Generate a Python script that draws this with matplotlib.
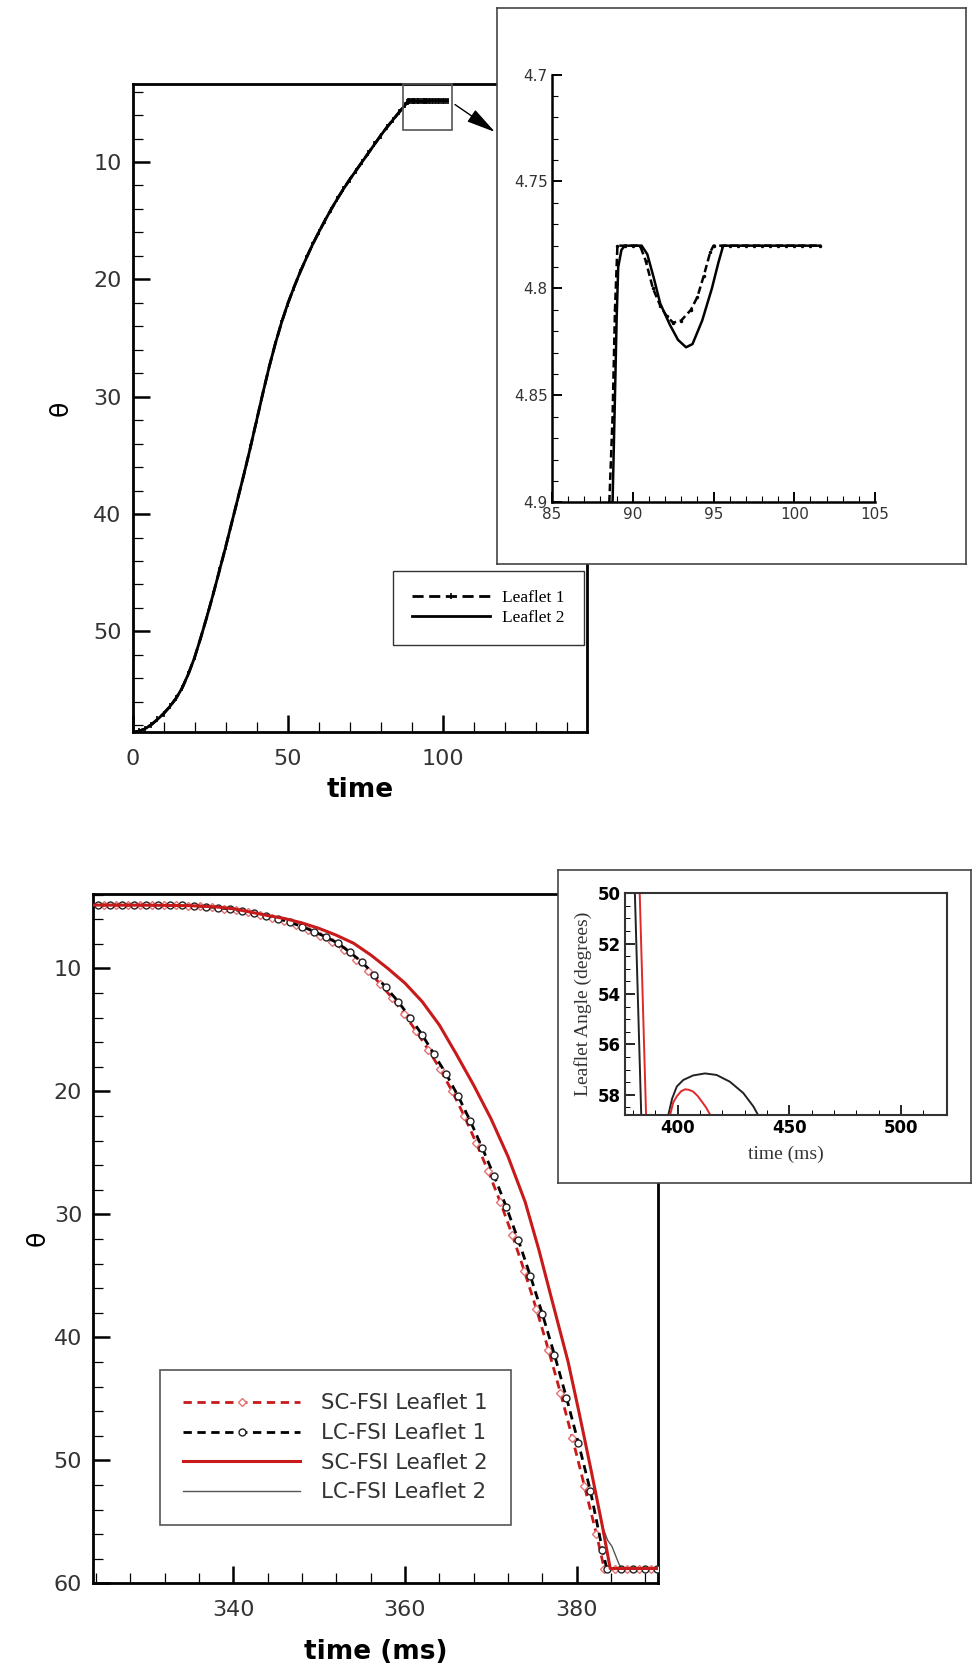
import matplotlib
matplotlib.use('Agg')
import matplotlib.pyplot as plt
from matplotlib.patches import Rectangle
from matplotlib.ticker import MultipleLocator

plt.rcParams['font.family'] = ['DejaVu Sans']

# ---- top panel: opening, full curve (shared by both leaflets) ----
time_rise = [0, 2, 4, 6, 8, 10, 12, 14, 16, 18, 20, 22, 24, 26, 28, 30, 32, 34,
             36, 38, 40, 42, 44, 46, 48, 50, 52, 54, 56, 58, 60, 62, 64, 66, 68,
             70, 72, 74, 76, 78, 80, 82, 84, 86, 88]
theta_rise = [58.6, 58.5, 58.3, 57.95, 57.5, 57.0, 56.4, 55.7, 54.8, 53.6, 52.2,
              50.5, 48.7, 46.8, 44.8, 42.8, 40.7, 38.6, 36.5, 34.3, 32.0, 29.7,
              27.5, 25.5, 23.7, 22.1, 20.7, 19.4, 18.2, 17.05, 16.0, 15.0, 14.05,
              13.15, 12.3, 11.5, 10.75, 10.0, 9.25, 8.5, 7.75, 7.05, 6.4, 5.75, 5.1]

# ---- top panel: zoom near full opening ----
time_l1 = [88.55, 88.75, 88.9, 89.05, 89.5, 90.0, 90.45, 90.8, 91.25, 91.7, 92.1,
           92.5, 93.0, 93.6, 94.0, 94.4, 94.8, 95.0, 95.5, 96.0, 96.5, 97.0, 97.5,
           98.0, 98.5, 99.0, 99.5, 100.0, 100.5, 101.0, 101.6]
theta_l1 = [4.9, 4.86, 4.81, 4.78, 4.78, 4.78, 4.78, 4.787, 4.8, 4.808, 4.813,
            4.816, 4.815, 4.81, 4.804, 4.794, 4.783, 4.78, 4.78, 4.78, 4.78, 4.78,
            4.78, 4.78, 4.78, 4.78, 4.78, 4.78, 4.78, 4.78, 4.78]
time_l2 = [88.75, 88.9, 89.0, 89.1, 89.3, 89.5, 90.55, 90.9, 91.3, 91.7, 92.3,
           92.8, 93.3, 93.7, 94.3, 94.9, 95.3, 95.6, 101.6]
theta_l2 = [4.9, 4.85, 4.815, 4.79, 4.782, 4.78, 4.78, 4.784, 4.795, 4.807, 4.817,
            4.824, 4.8275, 4.826, 4.815, 4.8, 4.788, 4.78, 4.78]

# ---- bottom panel: closing ----
time_sc1 = [324.9, 326.3, 327.7, 329.1, 330.5, 331.9, 333.3, 334.7, 336.1, 337.5,
            338.9, 340.3, 341.7, 343.1, 344.5, 345.9, 347.3, 348.7, 350.1, 351.5,
            352.9, 354.3, 355.7, 357.1, 358.5, 359.9, 361.3, 362.7, 364.1, 365.5,
            366.9, 368.3, 369.7, 371.1, 372.5, 373.9, 375.3, 376.7, 378.1, 379.5,
            380.9, 382.3, 383.2, 384.4, 385.8, 387.2, 388.6]
theta_sc1 = [4.85, 4.85, 4.85, 4.86, 4.86, 4.87, 4.88, 4.9, 4.95, 5.03, 5.14, 5.28,
             5.45, 5.65, 5.88, 6.15, 6.5, 6.9, 7.35, 7.85, 8.5, 9.3, 10.2, 11.25,
             12.4, 13.7, 15.1, 16.6, 18.2, 20.0, 22.0, 24.2, 26.5, 29.0, 31.7, 34.6,
             37.7, 41.0, 44.5, 48.2, 52.1, 56.0, 58.8, 58.8, 58.8, 58.8, 58.8]
time_lc1 = [324.2, 325.6, 327.0, 328.4, 329.8, 331.2, 332.6, 334.0, 335.4, 336.8,
            338.2, 339.6, 341.0, 342.4, 343.8, 345.2, 346.6, 348.0, 349.4, 350.8,
            352.2, 353.6, 355.0, 356.4, 357.8, 359.2, 360.6, 362.0, 363.4, 364.8,
            366.2, 367.6, 369.0, 370.4, 371.8, 373.2, 374.6, 376.0, 377.4, 378.8,
            380.2, 381.6, 383.0, 383.5, 385.1, 386.5, 387.9, 389.3]
theta_lc1 = [4.85, 4.85, 4.85, 4.85, 4.86, 4.86, 4.87, 4.88, 4.9, 4.97, 5.06, 5.17,
             5.32, 5.5, 5.7, 5.95, 6.25, 6.6, 7.0, 7.45, 7.95, 8.7, 9.5, 10.5, 11.55,
             12.7, 14.0, 15.4, 17.0, 18.6, 20.4, 22.4, 24.6, 26.9, 29.4, 32.1, 35.0,
             38.1, 41.4, 44.9, 48.6, 52.5, 57.3, 58.8, 58.8, 58.8, 58.8, 58.8]
time_sc2 = [323.7, 330, 335, 338, 340, 342, 344, 346, 348, 350, 352, 354, 356, 358,
            360, 362, 364, 366, 368, 370, 372, 374, 375.6, 377.2, 379.0, 380.3,
            381.7, 383.0, 383.9, 386, 389.5]
theta_sc2 = [4.85, 4.86, 4.9, 5.0, 5.15, 5.42, 5.7, 5.95, 6.3, 6.75, 7.3, 7.95, 8.9,
             10.0, 11.2, 12.7, 14.6, 17.0, 19.5, 22.2, 25.3, 29.0, 32.9, 37.2, 42.0,
             46.2, 50.9, 55.4, 58.8, 58.8, 58.8]
time_lc2 = [323.7, 330, 335, 338, 340, 342, 344, 346, 348, 350, 352, 354, 356, 358,
            360, 362, 364, 366, 368, 370, 372, 374, 375.6, 377.2, 379.0, 380.3,
            381.7, 383.0, 383.6, 384.1, 384.5, 384.9, 385.2, 389.5]
theta_lc2 = [4.85, 4.86, 4.9, 5.0, 5.15, 5.42, 5.7, 5.95, 6.3, 6.75, 7.3, 7.95, 8.9,
             10.0, 11.2, 12.7, 14.6, 17.0, 19.5, 22.2, 25.3, 29.0, 32.9, 37.2, 42.0,
             46.2, 50.9, 55.4, 56.5, 57.0, 57.7, 58.4, 58.8, 58.8]

# ---- bottom inset: rebound after closing ----
time_sc_in = [382.6, 386.0, 395.5, 396.6, 398.0, 399.6, 401.5, 403.3, 405.0, 406.9,
              408.8, 410.6, 412.7, 414.6, 416.0]
theta_sc_in = [48.8, 59.3, 59.4, 58.8, 58.3, 58.06, 57.86, 57.78, 57.8, 57.87,
               58.03, 58.24, 58.5, 58.8, 59.1]
time_lc_in = [380.5, 383.8, 394.5, 395.8, 397.5, 399.6, 402.5, 406.9, 412.2, 417.4,
              423.4, 429.4, 433.9, 436.0, 437.5]
theta_lc_in = [49.0, 59.2, 59.4, 58.8, 58.15, 57.67, 57.41, 57.23, 57.15, 57.21,
               57.48, 57.93, 58.46, 58.8, 59.1]

RED = '#c81a1a'
W, H = 975, 1669


def fig_rect(x0, y0, x1, y1):
    """pixel box (top-left origin) -> figure fraction rect"""
    return [x0 / W, 1 - y1 / H, (x1 - x0) / W, (y1 - y0) / H]


def style_main(ax):
    for s in ax.spines.values():
        s.set_linewidth(2.0)
    ax.tick_params(which='both', direction='in', top=False, right=False,
                   labelsize=16, labelcolor='#333')
    ax.tick_params(axis='x', pad=12)
    ax.tick_params(axis='y', pad=8)
    ax.tick_params(which='major', length=12, width=1.8)
    ax.tick_params(which='minor', length=7, width=0.9)


fig = plt.figure(figsize=(9.75, 16.69), dpi=100)

# ================= top panel =================
ax1 = fig.add_axes(fig_rect(132.7, 84, 586.7, 732.3))
t1 = time_rise + time_l1
y1 = theta_rise + theta_l1
t2 = time_rise + time_l2
y2 = theta_rise + theta_l2
ax1.plot(t2, y2, color='k', lw=2.0, label='Leaflet 2', zorder=3)
ax1.plot(t1, y1, color='k', lw=2.0, ls=(0, (4, 2)), marker='|', ms=4, mew=1.2,
         label='Leaflet 1', zorder=4)
ax1.set_xlim(0, 146.5)
ax1.set_ylim(58.6, 3.35)
ax1.xaxis.set_major_locator(MultipleLocator(50))
ax1.xaxis.set_minor_locator(MultipleLocator(10))
ax1.yaxis.set_major_locator(MultipleLocator(10))
ax1.yaxis.set_minor_locator(MultipleLocator(2))
style_main(ax1)
ax1.set_xlabel('time', fontsize=19, fontweight='bold', labelpad=6)
ax1.set_ylabel('θ', fontsize=18, labelpad=15)

ax1.add_patch(Rectangle((87.3, 3.35), 15.6, 3.89, fill=False, ec='#555',
                        lw=1.2, clip_on=False, zorder=5))
ax1.annotate('', xy=(116.9, 7.44), xytext=(104.0, 5.1),
             arrowprops=dict(arrowstyle='-|>,head_length=0.9,head_width=0.22',
                             color='k', lw=1.0, shrinkA=0, shrinkB=0,
                             mutation_scale=20),
             annotation_clip=False)

handles, labels = ax1.get_legend_handles_labels()
leg1 = ax1.legend(handles[::-1], labels[::-1], loc='upper left',
                  bbox_to_anchor=(0.5727, 0.2488), borderaxespad=0,
                  prop={'family': 'Liberation Serif', 'size': 12.5},
                  handlelength=4.5, handletextpad=0.7, borderpad=1.1,
                  labelspacing=0.2, fancybox=False, framealpha=1,
                  edgecolor='#333')
leg1.get_frame().set_linewidth(1.0)

# top inset frame + axes
fr1 = fig.add_axes(fig_rect(497, 8, 966, 564), zorder=3)
fr1.set_xticks([])
fr1.set_yticks([])
for s in fr1.spines.values():
    s.set_linewidth(1.2)
    s.set_color('#444')

in1 = fig.add_axes(fig_rect(552, 74.5, 875, 502.4), zorder=4)
in1.patch.set_alpha(0)
in1.plot(time_l2, theta_l2, color='k', lw=1.8)
in1.plot(time_l1, theta_l1, color='k', lw=1.8, ls=(0, (3, 1.5)), marker='.', ms=3)
in1.set_xlim(85, 105)
in1.set_ylim(4.9, 4.7)
in1.set_xticks([85, 90, 95, 100, 105])
in1.set_yticks([4.7, 4.75, 4.8, 4.85, 4.9])
in1.set_yticklabels(['4.7', '4.75', '4.8', '4.85', '4.9'])
in1.xaxis.set_minor_locator(MultipleLocator(1))
in1.yaxis.set_minor_locator(MultipleLocator(0.01))
in1.spines['top'].set_visible(False)
in1.spines['right'].set_visible(False)
in1.spines['left'].set_linewidth(1.8)
in1.spines['bottom'].set_linewidth(1.8)
in1.tick_params(which='both', direction='in', labelsize=11, labelcolor='#333',
                pad=3)
in1.tick_params(which='major', length=7, width=1.4)
in1.tick_params(which='minor', length=4, width=0.8)

# ================= bottom panel =================
ax2 = fig.add_axes(fig_rect(93.3, 894, 658.3, 1583.3))
ax2.plot(time_sc1, theta_sc1, color=RED, lw=2.0, ls=(0, (3, 2)), marker='D',
         ms=4.5, mfc='white', mec='#e57373', mew=1.0, label='SC-FSI Leaflet 1',
         zorder=3)
ax2.plot(time_lc1, theta_lc1, color='k', lw=2.0, ls=(0, (3, 2)), marker='o',
         ms=5, mfc='white', mec='#222', mew=1.0, label='LC-FSI Leaflet 1',
         zorder=4)
ax2.plot(time_sc2, theta_sc2, color=RED, lw=2.2, label='SC-FSI Leaflet 2',
         zorder=5)
ax2.plot(time_lc2, theta_lc2, color='#555', lw=1.0, label='LC-FSI Leaflet 2',
         zorder=2)
ax2.set_xlim(323.7, 389.5)
ax2.set_ylim(60, 3.95)
ax2.xaxis.set_major_locator(MultipleLocator(20))
ax2.xaxis.set_minor_locator(MultipleLocator(4))
ax2.yaxis.set_major_locator(MultipleLocator(10))
ax2.yaxis.set_minor_locator(MultipleLocator(2))
style_main(ax2)
ax2.set_xlabel('time (ms)', fontsize=19, fontweight='bold', labelpad=14)
ax2.set_ylabel('θ', fontsize=18, labelpad=3)

leg2 = ax2.legend(loc='upper left', bbox_to_anchor=(0.118, 0.3094),
                  borderaxespad=0, prop={'size': 15.3}, handlelength=5.5,
                  handletextpad=1.0, borderpad=1.1, labelspacing=0.45,
                  fancybox=False, framealpha=1, edgecolor='#555')
leg2.get_frame().set_linewidth(1.2)
for txt in leg2.get_texts():
    txt.set_color('#333')

# bottom inset frame + axes
fr2 = fig.add_axes(fig_rect(558.3, 870, 970.7, 1182.7), zorder=3)
fr2.set_xticks([])
fr2.set_yticks([])
for s in fr2.spines.values():
    s.set_linewidth(1.2)
    s.set_color('#444')

in2 = fig.add_axes(fig_rect(625, 893.3, 946.7, 1115), zorder=4)
in2.patch.set_alpha(0)
in2.plot(time_lc_in, theta_lc_in, color='#222', lw=1.4)
in2.plot(time_sc_in, theta_sc_in, color='#e02828', lw=1.4)
in2.set_xlim(376.4, 520.5)
in2.set_ylim(58.8, 50)
in2.set_xticks([400, 450, 500])
in2.set_yticks([50, 52, 54, 56, 58])
in2.xaxis.set_minor_locator(MultipleLocator(10))
in2.yaxis.set_minor_locator(MultipleLocator(0.5))
for s in in2.spines.values():
    s.set_linewidth(1.5)
    s.set_color('#333')
in2.tick_params(which='both', direction='in', top=False, right=False,
                labelsize=12, pad=3)
in2.tick_params(which='major', length=7, width=1.2)
in2.tick_params(which='minor', length=3.5, width=0.7)
for lab in in2.get_xticklabels() + in2.get_yticklabels():
    lab.set_fontweight('bold')
in2.set_xlabel('time (ms)', family='Liberation Serif', fontsize=14,
               color='#333', labelpad=6)
in2.set_ylabel('Leaflet Angle (degrees)', family='Liberation Serif',
               fontsize=14, color='#333', labelpad=4)

fig.savefig('out.png', dpi=100)
